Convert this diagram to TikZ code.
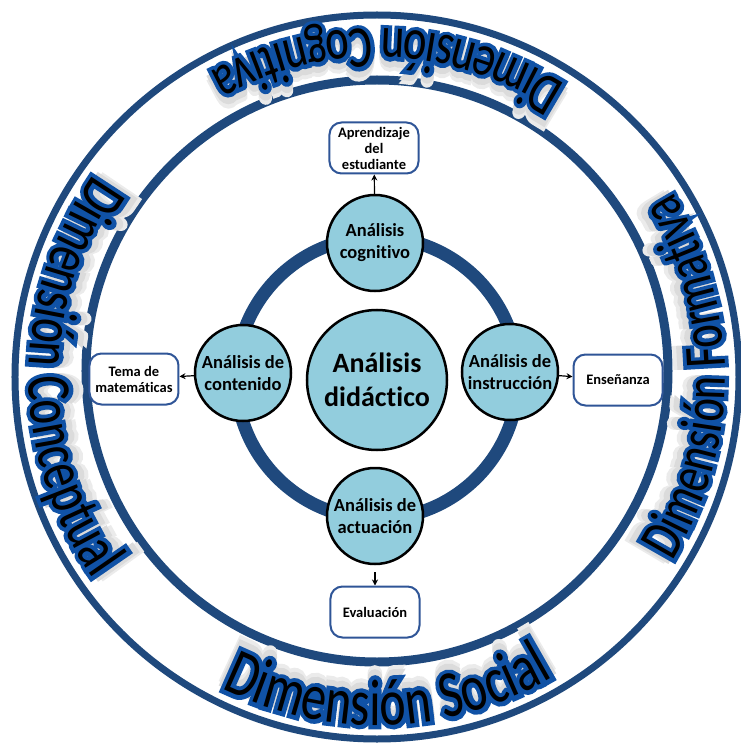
\documentclass[tikz,border=0pt]{standalone}
\usepackage{fontspec}
\setmainfont{Carlito}[Ligatures=NoCommon]
\newfontfamily\dimfont[FakeStretch=0.76]{Carlito}
\newfontfamily\dimfontthick[FakeStretch=0.76, FakeBold=13]{Carlito}
\usetikzlibrary{arrows.meta,decorations.text}
\definecolor{ringblue}{RGB}{31,73,125}
\definecolor{boxblue}{RGB}{47,85,151}
\definecolor{wordblue}{RGB}{16,82,166}
\definecolor{nodefill}{RGB}{146,205,221}

\begin{document}
\begin{tikzpicture}[x=1pt, y=1pt,
  analisis/.style={circle, draw=black, line width=2.5pt, fill=nodefill, minimum size=96pt, inner sep=0pt, align=center, font=\bfseries\fontsize{18.5}{22}\selectfont},
  caja/.style={draw=boxblue, line width=2pt, rounded corners=12pt, fill=white, minimum width=89pt, minimum height=51pt, inner sep=1pt, align=center, font=\bfseries\fontsize{14.5}{16}\selectfont},
  flecha/.style={line width=1.2pt, -{Stealth[length=6pt,width=6pt]}},
  dimtext/.style 2 args={decorate, decoration={text along path, text align=center, text={|\dimfam\fontsize{#2}{#2}\selectfont\color{\dimcol}|#1}}}]

  \useasboundingbox (-377,-370) rectangle (364,377);

  % outer band
  \draw[ringblue, line width=7pt] (0,0) circle[radius=362];
  \draw[ringblue, line width=9pt] (0,6) circle[radius=291];

  % band labels: shadow, blue outline, black letters
  \foreach \dimcol/\dimfam/\rr in {black!8/\dimfontthick/338, black!14/\dimfontthick/342, wordblue/\dimfontthick/348, black/\dimfont/348} {
    \path[dimtext={Dimensión Cognitiva}{59}] (28:\rr) arc[start angle=28, end angle=148, radius=\rr];
    \path[dimtext={Dimensión Conceptual}{62}] (120:\rr) arc[start angle=120, end angle=240, radius=\rr];
    \path[dimtext={Dimensión Social}{66}] (212:\rr) arc[start angle=212, end angle=332, radius=\rr];
    \path[dimtext={Dimensión Formativa}{59}] (-60:\rr) arc[start angle=-60, end angle=60, radius=\rr];
  }

  % analysis ring
  \draw[ringblue, line width=13pt] (0,-1) circle[radius=141];
  \node[analisis, minimum size=140pt, font=\bfseries\fontsize{28}{34}\selectfont] (did) at (0,-3) {Análisis\\didáctico};
  \node[analisis] (cog) at (-2,134) {Análisis\\cognitivo};
  \node[analisis] (con) at (-134,4) {Análisis de\\contenido};
  \node[analisis] (ins) at (133,5) {Análisis de\\instrucción};
  \node[analisis] (act) at (-2,-139) {Análisis de\\actuación};

  % boxes
  \node[caja] (apr) at (-3,229) {Aprendizaje\\del\\estudiante};
  \node[caja] (tem) at (-243,-2) {Tema de\\matemáticas};
  \node[caja] (ens) at (241,-3) {Enseñanza};
  \node[caja] (eva) at (-2,-235) {Evaluación};

  \draw[flecha] (cog) -- (apr);
  \draw[flecha] (con) -- (tem);
  \draw[flecha] (ins) -- (ens);
  \draw[flecha, shorten <=7pt] (act) -- (eva);
\end{tikzpicture}
\end{document}
